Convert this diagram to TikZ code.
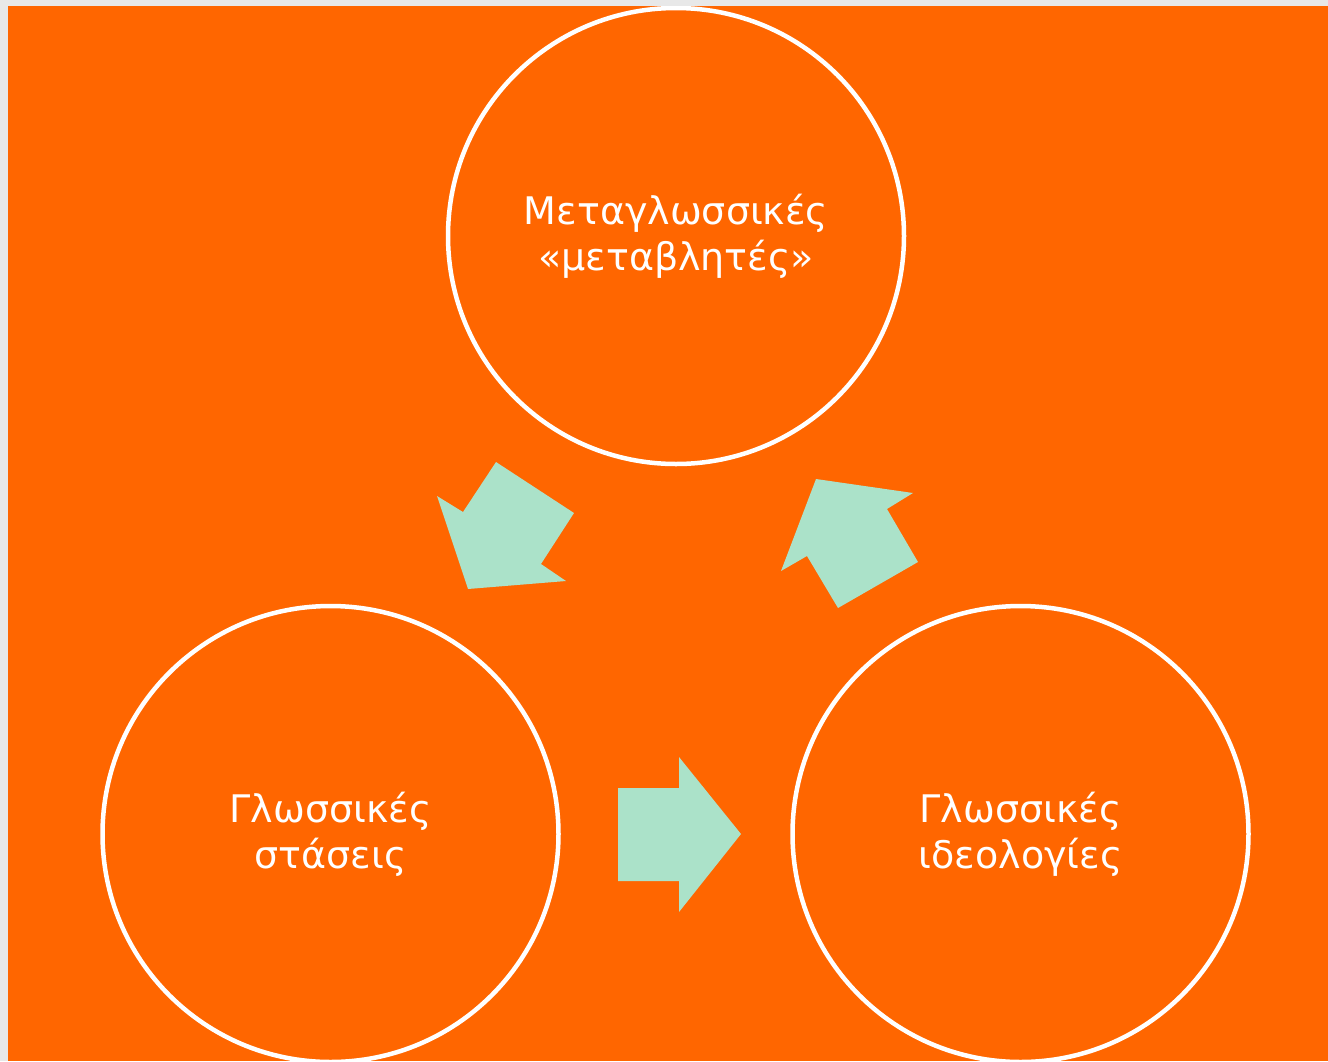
\documentclass[tikz,border=0pt]{standalone}
\usepackage{fontspec}
\setmainfont{DejaVu Sans}
\definecolor{bgorange}{HTML}{FF6600}
\definecolor{bggray}{HTML}{E8E8E8}
\definecolor{mint}{HTML}{ABE2C9}
\begin{document}
\begin{tikzpicture}[x=1pt,y=-1pt,
  bubble/.style={circle,draw=white,line width=4.5pt,minimum size=456pt,inner sep=0pt,
    text=white,align=center,font=\fontsize{38}{46}\selectfont},
  blockarrow/.style={fill=mint,draw=none}]
\useasboundingbox (0,0) rectangle (1328,1061);
\fill[bggray] (0,0) rectangle (1328,1061);
\fill[bgorange] (8,6) rectangle (1328,1061);
\begin{scope}
\clip (8,6) rectangle (1328,1061);
\node[bubble] (meta) at (676,236) {Μεταγλωσσικές\\«μεταβλητές»};
\node[bubble] (stas) at (330.5,834) {Γλωσσικές\\στάσεις};
\node[bubble] (ideo) at (1020.5,834) {Γλωσσικές\\ιδεολογίες};
\end{scope}
% arrow meta -> stas
\fill[blockarrow] (496,462) -- (574,513) -- (541,564) -- (566,581) -- (468,589) -- (437,496) -- (463,512) -- cycle;
% arrow ideo -> meta
\fill[blockarrow] (816,479) -- (913,493) -- (887,509) -- (918,562) -- (838,608) -- (807,556) -- (781,571) -- cycle;
% arrow stas -> ideo
\fill[blockarrow] (618,788) -- (679,788) -- (679,757) -- (741,834) -- (679,912) -- (679,881) -- (618,881) -- cycle;
\end{tikzpicture}
\end{document}
